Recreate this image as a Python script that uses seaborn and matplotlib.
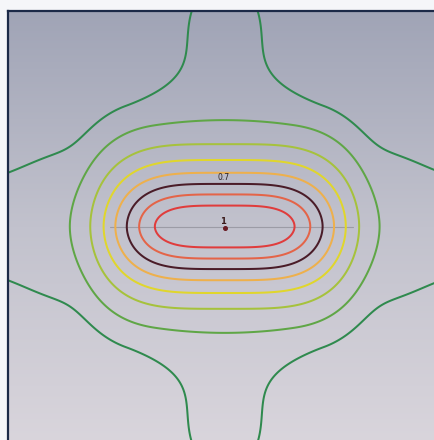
import numpy as np
import matplotlib
matplotlib.use("Agg")
import matplotlib.pyplot as plt
import seaborn as sns

# ---- chart data (levels, colours, labels) ----
levels = [0.22, 0.3, 0.4, 0.5, 0.6, 0.7, 0.8, 0.9]
level_colors = ["#2f8a4e", "#5fa646", "#a6c23c", "#e0d62c",
                "#eeb04c", "#4a1c28", "#e46448", "#e03c3c"]
label_texts = ["0.7", "1"]
axis_line_x = [-115, 128]
axis_line_y = [0, 0]

# ---- field model parameters (pixel units, cell centre = 0,0) ----
A_X, P_X = 121.0, 4.0            # long-axis scale / exponent
B_Y, P_Y = 66.5, 1.9             # short-axis scale / exponent
TOP_AMP, TOP_Y0, TOP_R = 0.1426, 240.0, 155.0        # neighbour lobes above / below
SIDE_AMP, SIDE_X0, SIDE_L, SIDE_K, SIDE_W = 0.22, 150.0, 60.0, 8.0, 135.0  # left / right
XLIM = (-216.7, 216.7)
YLIM = (-216.5, 215.5)


def field(x, y):
    core = 1.0 / (1.0 + (np.abs(x) / A_X) ** P_X + (np.abs(y) / B_Y) ** P_Y)
    q = 1.0 - (x ** 2 + (np.abs(y) - TOP_Y0) ** 2) / TOP_R ** 2
    top = TOP_AMP * np.clip(q, 0, None) ** 2
    s = SIDE_K * np.logaddexp(0.0, (np.abs(x) - SIDE_X0) / SIDE_K)
    side = SIDE_AMP * (1 - np.exp(-s / SIDE_L)) * np.exp(-y ** 2 / (2 * SIDE_W ** 2))
    return core + top + side


xs = np.linspace(XLIM[0] - 5, XLIM[1] + 5, 560)
ys = np.linspace(YLIM[0] - 5, YLIM[1] + 5, 560)
XX, YY = np.meshgrid(xs, ys)
V = field(XX, YY) / field(0.0, 0.0)

sns.set_theme(style="white")
fig = plt.figure(figsize=(4.35, 4.40), dpi=100)
fig.patch.set_facecolor("#f5f6f9")
W_PX, H_PX = 435.0, 440.0
ax = fig.add_axes([8 / W_PX, 1 - (11 + 432) / H_PX, 433.4 / W_PX, 432 / H_PX])

# background gradient
grad = np.linspace(0, 1, 256)[:, None]
cmap_bg = matplotlib.colors.LinearSegmentedColormap.from_list(
    "bg", ["#a0a4b6", "#c2c2cd", "#d9d5dc"])
ax.imshow(grad, aspect="auto", cmap=cmap_bg, origin="upper",
          extent=[XLIM[0], XLIM[1], YLIM[0], YLIM[1]], zorder=0)

sns.lineplot(x=axis_line_x, y=axis_line_y, ax=ax, color="#9c9ca6",
             linewidth=0.8, zorder=1)

ax.contour(XX, YY, V, levels=levels, colors=level_colors,
           linewidths=1.45, zorder=2)

ax.plot([0], [-1], marker="o", ms=2.6, color="#6a1c24", zorder=3)
ax.text(-1.5, 49.5, label_texts[0], fontsize=5.5, ha="center", va="center",
        color="#2a2020", zorder=4)
ax.text(-1.5, 5.5, label_texts[1], fontsize=6, ha="center", va="center",
        color="#3a1a1a", fontweight="bold", zorder=4)

ax.set_xlim(*XLIM)
ax.set_ylim(*YLIM)
ax.set_xticks([])
ax.set_yticks([])
for s in ["left", "top", "right", "bottom"]:
    ax.spines[s].set_color("#1c2a48")
    ax.spines[s].set_linewidth(1.6)

fig.savefig("out.png", dpi=100, facecolor=fig.get_facecolor())
